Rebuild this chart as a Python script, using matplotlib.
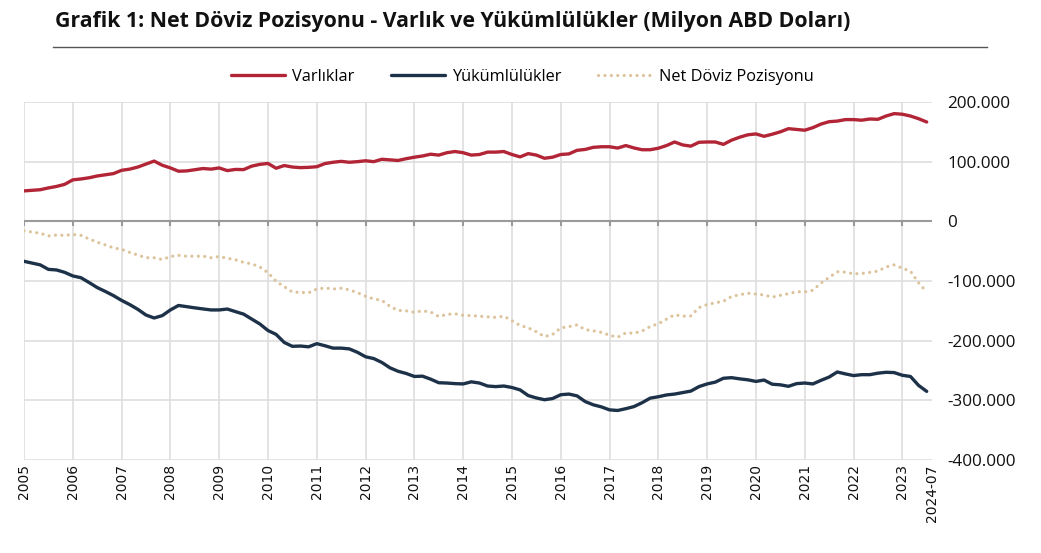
import numpy as np
import matplotlib
matplotlib.use("Agg")
import matplotlib.pyplot as plt
from matplotlib.lines import Line2D

plt.rcParams['font.family'] = ['Open Sans', 'DejaVu Sans']

title = 'Grafik 1: Net Döviz Pozisyonu - Varlık ve Yükümlülükler (Milyon ABD Doları)'
years = [str(y) for y in range(2005, 2024)]
last_label = '2024-07'

# readings every two months from Jan 2005, thousand USD mn
varliklar = [51, 52, 53, 56, 58.5, 62, 69.5, 71, 73, 76, 78, 80,
             85.5, 87.5, 91, 96, 101, 94, 89.5, 84, 84.5, 86.5, 88.5, 87.5,
             89.5, 85, 87, 86.7, 92.5, 95.5, 97, 89, 93.5, 91, 90, 90.5,
             91.5, 96.8, 99, 100.5, 99, 100, 101.5, 100, 104, 103, 102, 105,
             107.5, 109.5, 112.5, 111, 115, 117, 115, 111, 112, 116, 116, 117,
             112, 108, 113.5, 111, 105.7, 107.5, 112, 113, 119, 120.5, 124, 125,
             125, 122.8, 127, 123, 120, 120, 122.5, 127, 133, 128, 126, 132.5,
             133, 133, 129, 136, 141, 145, 146.5, 142.5, 146, 150, 155.3, 154,
             152.7, 157, 163, 167, 168, 170.5, 170.5, 169.5, 171.5, 171, 176.5, 180.5,
             179.5, 176.5, 172, 166.5]
yukumlulukler = [-67, -70, -73, -80.5, -81.5, -85.5, -91.5, -94.5, -102.5, -111, -117.5, -124.5,
                 -132.5, -139.5, -147.5, -157, -162, -158, -148.5, -141, -143, -145, -146.8, -148.5,
                 -148.5, -147, -151.3, -155.5, -163.8, -172, -183, -189.5, -203, -209.5, -209, -210.3,
                 -205, -208.5, -212.5, -212.5, -213.8, -219.5, -227, -230, -236.5, -245.5, -251.3, -255,
                 -260, -259.5, -264.5, -270.5, -271, -272, -272.5, -269, -271, -276, -277, -276,
                 -278.5, -282.5, -292, -296, -299, -297, -290.6, -289.5, -292.5, -302, -307.5, -311,
                 -316, -317, -314, -310.5, -304, -296.3, -294, -291, -289.5, -287, -284.5, -277,
                 -272.5, -269.5, -263, -262, -264, -265.6, -268.3, -266, -273, -274, -276.5, -272,
                 -271, -272.5, -266.5, -261, -252.5, -255.7, -258.5, -257, -257, -254.5, -253, -253.5,
                 -258, -260, -275, -285]

months = np.arange(0, 2 * len(varliklar), 2)
assets = np.array(varliklar) * 1000
liab = np.array(yukumlulukler) * 1000
net = assets + liab

red = '#b22537'
navy = '#1d3249'
tan = '#dcc39b'
grid_c = '#dedede'

fig = plt.figure(figsize=(10.41, 5.53), dpi=100)
W, H = 1041, 553
ax = fig.add_axes([24 / W, 1 - 460 / H, (932 - 24) / W, (460 - 102) / H])

ax.plot(months, assets, color=red, lw=2.4, label='Varlıklar', solid_capstyle='round')
ax.plot(months, liab, color=navy, lw=2.4, label='Yükümlülükler', solid_capstyle='round')
ax.plot(months, net, color=tan, lw=2.3, linestyle=(0, (0.01, 2.0)),
        dash_capstyle='round', label='Net Döviz Pozisyonu')

ax.set_xlim(0, 223.3)
ax.set_ylim(-400000, 200000)

year_pos = np.arange(len(years)) * 12
ax.set_xticks(list(year_pos) + [223.3])
ax.set_xticklabels(years + [last_label], rotation=90, family='DejaVu Sans',
                   fontsize=10, color='#111111')
yt = np.arange(-400000, 200001, 100000)
ax.set_yticks(yt)
ax.set_yticklabels([f'{v:,.0f}'.replace(',', '.') for v in yt], fontsize=12.3, color='#111111')
ax.yaxis.tick_right()
ax.tick_params(axis='y', length=0, pad=11)
ax.tick_params(axis='x', length=0, pad=3)

for s in ax.spines.values():
    s.set_visible(False)
for v in yt:
    if v != 0:
        ax.axhline(v, color=grid_c, lw=1.2, zorder=0)
for p in year_pos:
    ax.axvline(p, color=grid_c, lw=1.2, zorder=0)
ax.axhline(0, color='#9a9a9a', lw=1.5, zorder=1)
ax.vlines(year_pos, -7000, 0, color='#9a9a9a', lw=1.5, zorder=1)

fig.text(55 / W, 1 - 21 / H, title, fontsize=15.3, fontweight='bold',
         va='center', ha='left', color='#111111')
fig.add_artist(Line2D([53 / W, 987 / W], [1 - 47 / H, 1 - 47 / H], color='#555555', lw=1))

fig.legend(loc='center', bbox_to_anchor=(0.502, 1 - 77 / H), ncol=3, frameon=False,
           fontsize=11.8, handlelength=3.3, handletextpad=0.45, columnspacing=2.2)

fig.savefig('out.png', dpi=100)
